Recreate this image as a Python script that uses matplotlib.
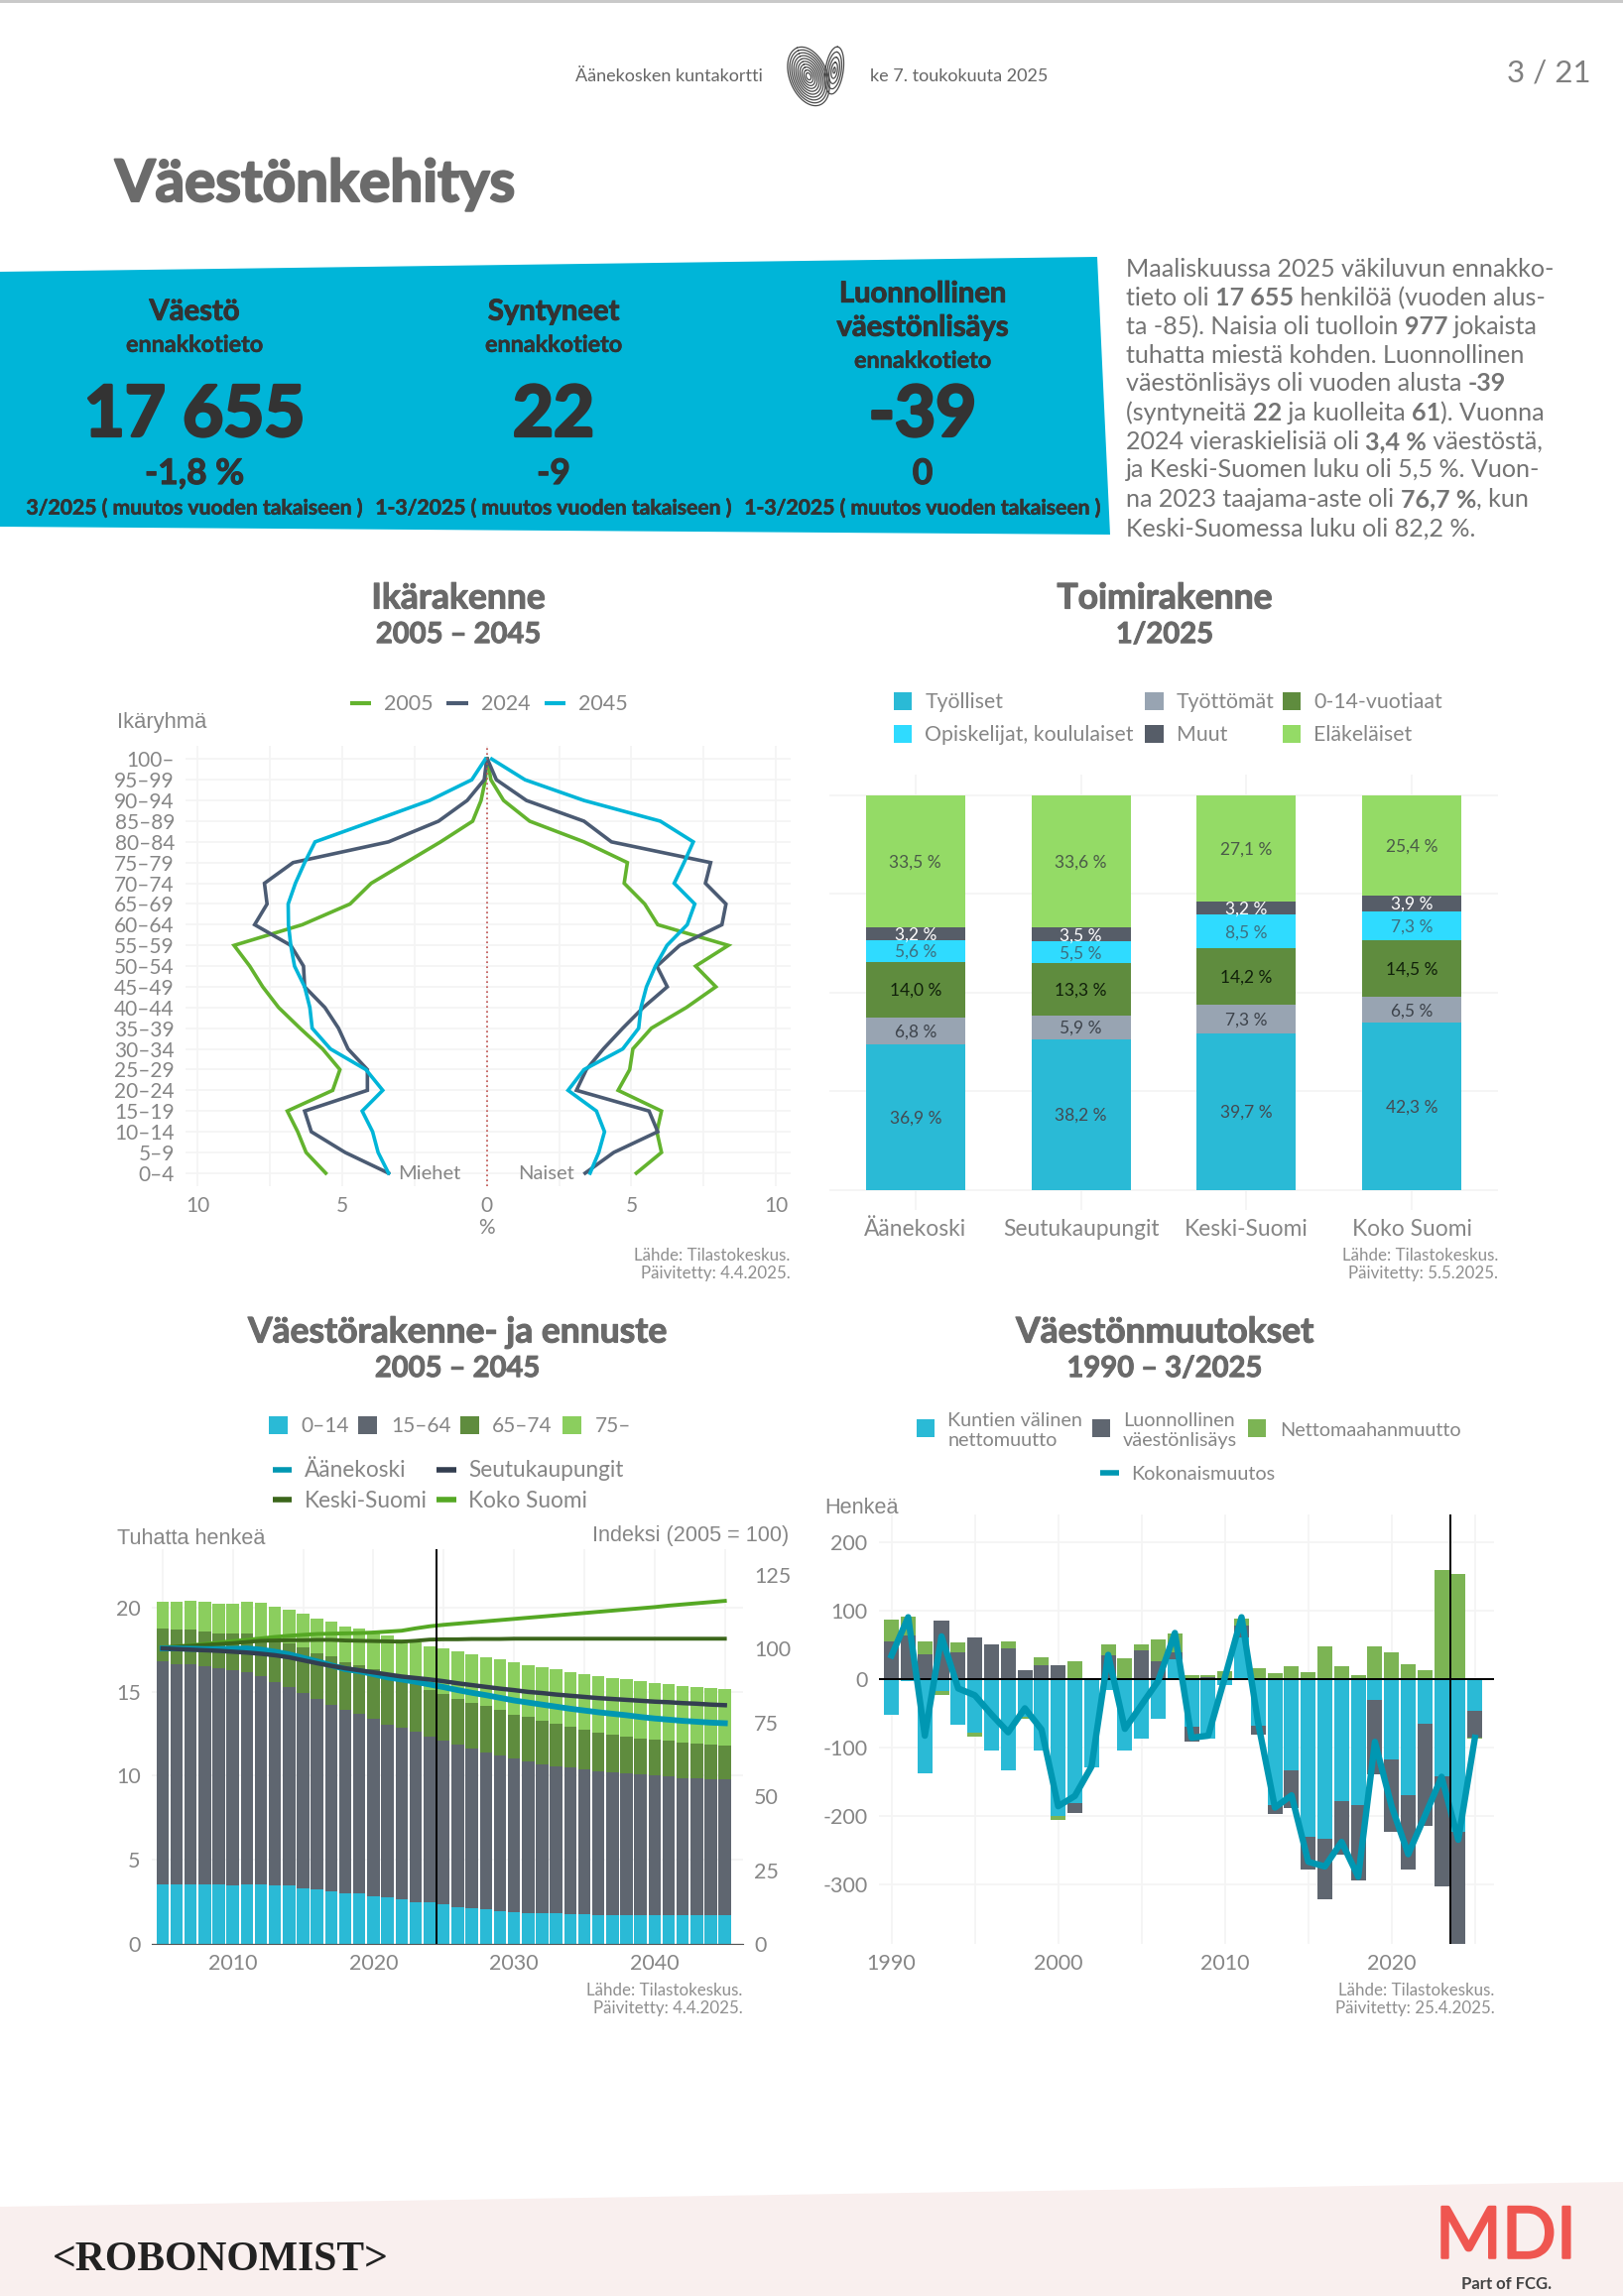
import numpy as np
import matplotlib
matplotlib.use("Agg")
import matplotlib.pyplot as plt
import matplotlib.patheffects as pe
from matplotlib.patches import Polygon, Rectangle

W, H = 1636, 2315
BODY = ['Lato', 'DejaVu Sans']
ARIAL = ['Liberation Sans', 'DejaVu Sans']
GREY = '#868686'
DARK = '#333333'
GRID = '#f4f4f4'

# ---------- Ikärakenne ----------
age_groups = ['0–4', '5–9', '10–14', '15–19', '20–24', '25–29', '30–34', '35–39', '40–44', '45–49', '50–54',
              '55–59', '60–64', '65–69', '70–74', '75–79', '80–84', '85–89', '90–94', '95–99', '100–']
men_2005 = [5.57, 6.25, 6.54, 6.9, 5.33, 5.08, 5.68, 6.46, 7.2, 7.75, 8.2, 8.74, 6.38, 4.73, 4.0, 2.8, 1.6, 0.49, 0.2, 0.05, 0.0]
men_2024 = [3.4, 4.9, 6.07, 6.3, 4.13, 4.13, 4.8, 5.13, 5.6, 6.3, 6.34, 6.78, 8.03, 7.6, 7.69, 6.7, 3.4, 1.67, 0.68, 0.09, 0.0]
men_2045 = [3.4, 3.76, 3.95, 4.31, 3.6, 4.18, 5.41, 6.04, 6.12, 6.3, 6.65, 6.78, 6.86, 6.87, 6.62, 6.3, 5.94, 3.95, 1.98, 0.52, 0.05]
women_2005 = [5.17, 6.04, 5.88, 6.04, 4.54, 4.94, 5.05, 5.69, 6.9, 7.92, 7.22, 8.35, 5.91, 5.46, 4.75, 4.86, 3.36, 1.48, 0.58, 0.14, 0.02]
women_2024 = [3.4, 4.39, 5.91, 5.61, 3.1, 3.44, 4.03, 4.7, 5.41, 6.24, 5.88, 6.67, 8.13, 8.27, 7.56, 7.74, 4.31, 3.36, 1.37, 0.33, 0.02]
women_2045 = [3.57, 3.87, 4.07, 3.79, 2.81, 3.36, 4.7, 5.25, 5.33, 5.52, 5.83, 6.23, 6.93, 7.19, 6.48, 6.82, 7.14, 6.0, 3.36, 1.32, 0.17]

# ---------- Toimirakenne ----------
areas = ['Äänekoski', 'Seutukaupungit', 'Keski-Suomi', 'Koko Suomi']
tyolliset = [36.9, 38.2, 39.7, 42.3]
tyottomat = [6.8, 5.9, 7.3, 6.5]
lapset = [14.0, 13.3, 14.2, 14.5]
opiskelijat = [5.6, 5.5, 8.5, 7.3]
muut = [3.2, 3.5, 3.2, 3.9]
elakelaiset = [33.5, 33.6, 27.1, 25.4]

# ---------- Väestörakenne- ja ennuste (cumulative tops, thousand persons) ----------
years3 = list(range(2005, 2046))
top_0_14 = [3.55, 3.55, 3.55, 3.52, 3.52, 3.5, 3.52, 3.52, 3.5, 3.45, 3.3, 3.25, 3.15, 3.0, 3.0, 2.85, 2.75, 2.65, 2.5, 2.45,
            2.35, 2.2, 2.15, 2.05, 1.97, 1.9, 1.85, 1.8, 1.8, 1.78, 1.77, 1.72, 1.72, 1.71, 1.71, 1.7, 1.7, 1.7, 1.7, 1.7, 1.7]
top_15_64 = [16.82, 16.65, 16.65, 16.53, 16.39, 16.27, 16.15, 15.9, 15.57, 15.3, 14.92, 14.56, 14.22, 13.89, 13.67, 13.38, 13.04, 12.83, 12.6, 12.32,
             12.1, 11.84, 11.6, 11.38, 11.2, 11.02, 10.85, 10.7, 10.56, 10.47, 10.35, 10.28, 10.23, 10.13, 10.08, 10.0, 9.96, 9.87, 9.84, 9.8, 9.77]
top_65_74 = [18.75, 18.68, 18.68, 18.58, 18.46, 18.44, 18.46, 18.2, 18.0, 17.85, 17.64, 17.3, 17.1, 16.73, 16.6, 16.34, 16.03, 15.74, 15.45, 15.1,
             14.85, 14.56, 14.32, 14.13, 13.89, 13.65, 13.48, 13.26, 13.12, 12.92, 12.73, 12.59, 12.47, 12.32, 12.23, 12.15, 12.08, 11.99, 11.91, 11.87, 11.82]
top_75 = [20.34, 20.34, 20.41, 20.34, 20.24, 20.24, 20.34, 20.26, 20.07, 19.9, 19.64, 19.37, 19.16, 18.87, 18.75, 18.58, 18.34, 18.1, 17.95, 17.71,
          17.6, 17.4, 17.23, 17.06, 16.9, 16.75, 16.56, 16.46, 16.32, 16.15, 16.03, 15.93, 15.81, 15.72, 15.62, 15.52, 15.45, 15.36, 15.28, 15.21, 15.14]
idx_aanekoski = [100, 100, 99.9, 99.8, 99.8, 99.9, 100.0, 99.6, 98.9, 98.0, 96.8, 95.6, 94.3, 93.0, 92.3, 91.3, 90.2, 89.5, 88.7, 87.8,
                 86.9, 85.9, 85.0, 84.2, 83.3, 82.4, 81.7, 81.0, 80.3, 79.6, 79.0, 78.4, 77.9, 77.4, 76.8, 76.3, 75.9, 75.5, 75.2, 74.9, 74.7]
idx_seutu = [100, 99.8, 99.6, 99.4, 99.2, 98.9, 98.6, 98.2, 97.7, 97.0, 96.0, 95.0, 94.1, 93.3, 92.6, 91.9, 91.2, 90.5, 90.0, 89.5,
             88.9, 88.2, 87.6, 87.0, 86.4, 85.9, 85.3, 84.9, 84.4, 84.0, 83.6, 83.2, 82.9, 82.6, 82.3, 82.0, 81.8, 81.5, 81.3, 81.0, 80.8]
idx_keski = [100.3, 100.6, 100.9, 101.2, 101.5, 101.8, 102.2, 102.6, 102.7, 102.8, 102.8, 102.9, 102.9, 102.7, 102.6, 102.5, 102.4, 102.3, 102.6, 103.0,
             103.1, 103.1, 103.2, 103.2, 103.2, 103.3, 103.3, 103.3, 103.3, 103.3, 103.3, 103.3, 103.3, 103.3, 103.3, 103.3, 103.3, 103.3, 103.3, 103.3, 103.3]
idx_koko = [100.3, 100.7, 101.1, 101.5, 102.0, 102.5, 102.9, 103.4, 103.9, 104.3, 104.6, 104.9, 105.0, 105.1, 105.2, 105.4, 105.7, 106.0, 106.8, 107.5,
            108.0, 108.4, 108.8, 109.2, 109.6, 110.0, 110.4, 110.8, 111.2, 111.6, 112.0, 112.4, 112.8, 113.2, 113.6, 114.0, 114.5, 114.9, 115.3, 115.7, 116.1]

# ---------- Väestönmuutokset ----------
years4 = list(range(1990, 2026))
kuntien = [-52, -3, -138, -18, -67, -78, -104, -134, -55, -105, -200, -181, -129, -16, -104, -87, -59, 29, -70, -87, -9, 61,
           -68, -184, -133, -230, -233, -178, -184, -31, -118, -170, -65, -142, -223, -47]
luonnollinen = [54, 64, 36, 85, 39, 60, 51, 45, 13, 20, 20, -15, 1, 34, 0, 41, 25, 10, -22, 2, 0, 17,
                -13, -14, -55, -48, -89, -78, -111, -108, -106, -108, -150, -161, -190, -39]
maahanmuutto = [32, 27, 19, -5, 14, -6, 0, 10, -3, 11, -6, 25, 0, 16, 30, 9, 32, 27, 6, 3, 11, 10,
                15, 8, 18, 10, 47, 18, 6, 47, 38, 22, 12, 159, 153, -1]
kokonais = [34, 90, -83, 62, -14, -24, -52, -78, -43, -74, -186, -171, -128, 35, -73, -38, -3, 67, -86, -83, 2, 90,
            -65, -188, -170, -267, -274, -238, -289, -92, -186, -256, -200, -143, -235, -86]

fig = plt.figure(figsize=(W / 100, H / 100), dpi=100, facecolor='white')
plt.rcParams['font.family'] = BODY


def axes_px(l, t, r, b, **kw):
    return fig.add_axes([l / W, 1 - b / H, (r - l) / W, (b - t) / H], **kw)


def style(ax, fs=15):
    for s in ax.spines.values():
        s.set_visible(False)
    ax.tick_params(length=0, labelsize=fs, labelcolor=GREY)
    for lab in ax.get_xticklabels() + ax.get_yticklabels():
        lab.set_fontweight('normal')
        lab.set_family(BODY)
    ax.set_facecolor('none')


pg = fig.add_axes([0, 0, 1, 1], zorder=-5)
pg.set_xlim(0, W)
pg.set_ylim(H, 0)
pg.axis('off')
top = fig.add_axes([0, 0, 1, 1], zorder=10)
top.set_xlim(0, W)
top.set_ylim(H, 0)
top.axis('off')
top.patch.set_alpha(0)


def T(x, y, s, fs=15, ha='left', va='center', color=GREY, weight='normal', family=BODY, stroke=0, **kw):
    t = top.text(x, y + fs * 0.08, s, fontsize=fs, ha=ha, va=va, color=color, fontweight=weight, family=family, **kw)
    if stroke:
        t.set_path_effects([pe.withStroke(linewidth=stroke, foreground=color)])
    return t


def swatch(x0, x1, y, c, h=18):
    top.add_patch(Rectangle((x0, y - h / 2), x1 - x0, h, fc=c, ec='none'))


def key(x0, x1, y, c, lw=3):
    top.plot([x0, x1], [y, y], color=c, lw=lw, solid_capstyle='butt')


def source(xr, y0, y1, a, b):
    T(xr, y0, a, fs=12.2, ha='right', color='#8f8f8f')
    T(xr, y1, b, fs=12.2, ha='right', color='#8f8f8f')


# ---------- header ----------
pg.add_patch(Rectangle((0, 0), W, 2.5, fc='#c9c9c9', ec='none'))
T(580, 76, 'Äänekosken kuntakortti', fs=13, color='#666666')
T(877, 76, 'ke 7. toukokuuta 2025', fs=13, color='#666666')
T(1604, 72, '3 / 21', fs=22.5, ha='right', color='#808080')
T(116, 183, 'Väestönkehitys', fs=42, color='#6b6b6b', weight='bold', stroke=1.6)

# fingerprint icon
for cx, cy, rx, ry, rot, n in [(815, 77, 19, 31, -22, 10), (841, 71, 9, 24, 8, 5)]:
    t = np.linspace(0, 2 * np.pi, 90)
    a = np.radians(rot)
    for s in np.linspace(0.12, 1, n):
        ex, ey = s * rx * np.sin(t), -s * ry * np.cos(t)
        top.plot(cx + ex * np.cos(a) - ey * np.sin(a), cy + ex * np.sin(a) + ey * np.cos(a), color='#4a4a4a', lw=0.9)

# ---------- blue band ----------
pg.add_patch(Polygon([(0, 274), (1106, 259), (1119, 539), (0, 531)], fc='#00B5D8', ec='none'))
cols = [(196, ['Väestö'], '17 655', '-1,8 %', '3/2025 ( muutos vuoden takaiseen )'),
        (558, ['Syntyneet'], '22', '-9', '1-3/2025 ( muutos vuoden takaiseen )'),
        (930, ['Luonnollinen', 'väestönlisäys'], '-39', '0', '1-3/2025 ( muutos vuoden takaiseen )')]
for x, heads, big, chg, foot in cols:
    if len(heads) == 1:
        T(x, 313, heads[0], fs=21, ha='center', color=DARK, weight='bold', stroke=0.7)
        T(x, 347, 'ennakkotieto', fs=16.8, ha='center', color=DARK, weight='bold', stroke=0.4)
    else:
        T(x, 295, heads[0], fs=21, ha='center', color=DARK, weight='bold', stroke=0.7)
        T(x, 329, heads[1], fs=21, ha='center', color=DARK, weight='bold', stroke=0.7)
        T(x, 363, 'ennakkotieto', fs=16.8, ha='center', color=DARK, weight='bold', stroke=0.4)
    T(x, 415, big, fs=51, ha='center', color=DARK, weight='bold', stroke=2.2)
    T(x, 476, chg, fs=25.5, ha='center', color=DARK, weight='bold', stroke=0.8)
    T(x, 511.5, foot, fs=15.2, ha='center', color=DARK, weight='bold', stroke=0.4)

para = [
    [('Maaliskuussa 2025 väkiluvun ennakko-', 0)],
    [('tieto oli ', 0), ('17 655', 1), (' henkilöä (vuoden alus-', 0)],
    [('ta -85). Naisia oli tuolloin ', 0), ('977', 1), (' jokaista', 0)],
    [('tuhatta miestä kohden. Luonnollinen', 0)],
    [('väestönlisäys oli vuoden alusta ', 0), ('-39', 1)],
    [('(syntyneitä ', 0), ('22', 1), (' ja kuolleita ', 0), ('61', 1), ('). Vuonna', 0)],
    [('2024 vieraskielisiä oli ', 0), ('3,4 %', 1), (' väestöstä,', 0)],
    [('ja Keski-Suomen luku oli 5,5 %. Vuon-', 0)],
    [('na 2023 taajama-aste oli ', 0), ('76,7 %', 1), (', kun', 0)],
    [('Keski-Suomessa luku oli 82,2 %.', 0)],
]
para_y = [270, 299.5, 328, 357, 385.5, 415, 444, 472.5, 502, 531.5]
rend = fig.canvas.get_renderer()
for runs, y in zip(para, para_y):
    x = 1135
    for s, b in runs:
        sp = s.replace(' ', '\u00a0')
        t = T(x, y, sp, fs=18.1, color='#747474', weight='bold' if b else 'normal')
        x += t.get_window_extent(rend).width

# ---------- section titles ----------
for x, y, a, b in [(462, 601.5, 'Ikärakenne', '2005 – 2045'), (1174, 601.5, 'Toimirakenne', '1/2025'),
                   (461, 1341.5, 'Väestörakenne- ja ennuste', '2005 – 2045'), (1174, 1341.5, 'Väestönmuutokset', '1990 – 3/2025')]:
    T(x, y, a, fs=25.5, ha='center', color='#6a6a6a', weight='bold', stroke=0.8)
    T(x, y + 37, b, fs=21, ha='center', color='#6a6a6a', weight='bold', stroke=0.7)

# ---------- Chart 1 ----------
ax1 = axes_px(187, 752.4, 796.5, 1196)
ypos = np.arange(len(age_groups))
C_2005, C_2024, C_2045 = '#63B32E', '#4B5B73', '#00B5D8'
for men, women, c in [(men_2005, women_2005, C_2005), (men_2024, women_2024, C_2024), (men_2045, women_2045, C_2045)]:
    ax1.plot(-np.array(men), ypos, color=c, lw=2.6, solid_joinstyle='miter')
    ax1.plot(women, ypos, color=c, lw=2.6, solid_joinstyle='miter')
ax1.axvline(0, color='#c0504d', lw=1.2, ls=(0, (1, 2)))
ax1.set_xlim(-10.42, 10.49)
ax1.set_ylim(-0.63, 20.62)
ax1.set_xticks([-10, -5, 0, 5, 10], ['10', '5', '0', '5', '10'])
ax1.set_xticks([-7.5, -2.5, 2.5, 7.5], minor=True)
ax1.set_yticks(ypos, age_groups)
ax1.grid(True, which='both', color=GRID, lw=1.3)
ax1.tick_params(which='minor', length=0)
ax1.set_axisbelow(True)
style(ax1, 15)
ax1.tick_params(axis='y', pad=8)
ax1.tick_params(axis='x', pad=7)
T(490.7, 1237, '%', fs=15, ha='center')
T(118, 727, 'Ikäryhmä', fs=15.8, family=ARIAL)
T(433, 1182, 'Miehet', fs=14.5, ha='center')
T(550, 1182, 'Naiset', fs=14.5, ha='center')
for x0, x1, xt, s, c in [(352.5, 374, 387, '2005', C_2005), (450, 472, 485, '2024', C_2024), (548.6, 570, 583.5, '2045', C_2045)]:
    key(x0, x1, 709, c)
    T(xt, 709, s, fs=15.5)
source(796.5, 1265, 1283, 'Lähde: Tilastokeskus.', 'Päivitetty: 4.4.2025.')

# ---------- Chart 2 ----------
ax2 = axes_px(836, 780.8, 1510, 1219.7)
xs = np.arange(len(areas))
stack2 = [(tyolliset, '#2ABAD6', '#444a52'), (tyottomat, '#98A4B2', '#3d434b'), (lapset, '#5F8C3E', '#10200a'),
          (opiskelijat, '#2FDBFF', '#3d6f80'), (muut, '#565D68', '#ffffff'), (elakelaiset, '#94DB66', '#4a5a48')]
bot = np.zeros(4)
for vals, c, tc in stack2:
    v = np.array(vals) / 100
    ax2.bar(xs, v, 0.6, bottom=bot, color=c, zorder=3)
    for xi, b, h, raw in zip(xs, bot, v, vals):
        ax2.text(xi, b + h / 2 - 0.003, f'{raw:.1f} %'.replace('.', ','), ha='center', va='center', color=tc,
                 fontsize=12.5, zorder=4, fontweight='normal')
    bot += v
ax2.set_xlim(-0.52, 3.52)
ax2.set_ylim(-0.05, 1.052)
ax2.set_xticks(xs, areas)
ax2.set_yticks([0, .25, .5, .75, 1], [''] * 5)
ax2.grid(True, color=GRID, lw=1.3)
ax2.set_axisbelow(True)
style(ax2, 16.4)
ax2.tick_params(axis='x', pad=7)
for x0, x1, xt, y, s, c in [(900.8, 919, 932.5, 707, 'Työlliset', '#2ABAD6'), (900.8, 919, 932.5, 740, 'Opiskelijat, koululaiset', '#2FDBFF'),
                            (1154, 1172.6, 1185.5, 707, 'Työttömät', '#98A4B2'), (1154, 1172.6, 1185.5, 740, 'Muut', '#565D68'),
                            (1293, 1311, 1324, 707, '0-14-vuotiaat', '#5F8C3E'), (1293, 1311, 1324, 740, 'Eläkeläiset', '#94DB66')]:
    swatch(x0, x1, y, c)
    T(xt, y, s, fs=15.3)
source(1510, 1265, 1283, 'Lähde: Tilastokeskus.', 'Päivitetty: 5.5.2025.')

# ---------- Chart 3 ----------
ax3 = axes_px(152.8, 1562, 748.8, 1960)
yr = np.array(years3)
prev = np.zeros(len(yr))
C3 = ['#2ABAD6', '#5F6670', '#5F8C3E', '#8BCE5E']
for tops, c in zip([top_0_14, top_15_64, top_65_74, top_75], C3):
    tops = np.array(tops)
    ax3.bar(yr, tops - prev, 0.88, bottom=prev, color=c, zorder=2)
    prev = tops
ax3.set_xlim(2004.22, 2046.28)
ax3.set_ylim(0, 23.47)
ax3.set_xticks([2010, 2020, 2030, 2040])
ax3.set_xticks([2005, 2015, 2025, 2035, 2045], minor=True)
ax3.set_yticks([0, 5, 10, 15, 20])
ax3.grid(True, which='both', color=GRID, lw=1.3)
ax3.tick_params(which='minor', length=0)
ax3.set_axisbelow(True)
style(ax3, 15.5)
ax3.spines['bottom'].set_visible(True)
ax3.spines['bottom'].set_color('#555555')
ax3.tick_params(axis='y', pad=8)
ax3.tick_params(axis='x', pad=7)
ax3b = ax3.twinx()
ax3b.plot(yr, idx_koko, color='#55A824', lw=2.8, zorder=3)
ax3b.plot(yr, idx_keski, color='#3B661B', lw=2.8, zorder=4)
ax3b.plot(yr, idx_aanekoski, color='#0097B2', lw=4.2, zorder=5)
ax3b.plot(yr, idx_seutu, color='#333E50', lw=3.2, zorder=6)
ax3b.axvline(2024.5, color='black', lw=1.4, zorder=7)
ax3b.set_ylim(0, 133.6)
ax3b.set_yticks([0, 25, 50, 75, 100, 125])
style(ax3b, 15.5)
ax3b.tick_params(axis='y', pad=8)
for x0, x1, xt, s, c in [(270.8, 289.6, 303, '0–14', C3[0]), (361, 380, 394, '15–64', C3[1]), (464, 483, 496, '65–74', C3[2]), (567, 586, 599.5, '75–', C3[3])]:
    swatch(x0, x1, 1436.7, c)
    T(xt, 1437, s, fs=15)
for x0, x1, xt, y, s, c in [(274.5, 293.8, 306.6, 1481.6, 'Äänekoski', '#0097B2'), (440, 459.5, 472, 1481.6, 'Seutukaupungit', '#333E50'),
                            (274.5, 293.8, 306.6, 1512, 'Keski-Suomi', '#3B661B'), (440, 459.5, 472, 1512, 'Koko Suomi', '#55A824')]:
    key(x0, x1, y, c, 4)
    T(xt, y, s, fs=16.3)
T(118, 1550, 'Tuhatta henkeä', fs=15.6, family=ARIAL)
T(795.6, 1547, 'Indeksi (2005 = 100)', fs=15.6, ha='right', family=ARIAL)
source(748.8, 2006, 2024, 'Lähde: Tilastokeskus.', 'Päivitetty: 4.4.2025.')

# ---------- Chart 4 ----------
ax4 = axes_px(885.7, 1526.5, 1506.4, 1960)
yr4 = np.array(years4)
pos = np.zeros(len(yr4))
neg = np.zeros(len(yr4))
C4 = ['#2ABAD6', '#5F6670', '#7CB454']
for vals, c in zip([kuntien, luonnollinen, maahanmuutto], C4):
    v = np.array(vals, dtype=float)
    b = np.where(v >= 0, pos, neg)
    ax4.bar(yr4, v, 0.9, bottom=b, color=c, zorder=2)
    pos += np.where(v >= 0, v, 0)
    neg += np.where(v < 0, v, 0)
ax4.plot(yr4, kokonais, color='#0097B2', lw=4.6, zorder=4, solid_joinstyle='round')
ax4.axhline(0, color='black', lw=1.4, zorder=3)
ax4.axvline(2023.5, color='black', lw=1.4, zorder=5)
ax4.set_xlim(1989.23, 2026.17)
ax4.set_ylim(-387, 240.7)
ax4.set_xticks([1990, 2000, 2010, 2020])
ax4.set_xticks([1995, 2005, 2015, 2025], minor=True)
ax4.set_yticks([-300, -200, -100, 0, 100, 200], ['-300', '-200', '-100', '0', '100', '200'])
ax4.grid(True, which='both', color=GRID, lw=1.3)
ax4.tick_params(which='minor', length=0)
ax4.set_axisbelow(True)
style(ax4, 15.5)
ax4.tick_params(axis='y', pad=8)
ax4.tick_params(axis='x', pad=7)
swatch(923.8, 942, 1440, C4[0])
T(955.4, 1431, 'Kuntien välinen', fs=14.3)
T(955.4, 1451.4, 'nettomuutto', fs=14.3)
swatch(1101, 1119.4, 1440, C4[1])
T(1132, 1431, 'Luonnollinen', fs=14.3)
T(1132, 1451.4, 'väestönlisäys', fs=14.3)
swatch(1258, 1276.4, 1440, C4[2])
T(1289.7, 1441, 'Nettomaahanmuutto', fs=14.3)
key(1109, 1127.6, 1485, '#0097B2', 4)
T(1140.5, 1485, 'Kokonaismuutos', fs=14.3)
T(831.5, 1519.6, 'Henkeä', fs=15.6, family=ARIAL)
source(1506.4, 2006, 2024, 'Lähde: Tilastokeskus.', 'Päivitetty: 25.4.2025.')

# ---------- footer ----------
pg.add_patch(Polygon([(0, 2225), (W, 2200), (W, H), (0, H)], fc='#F9EFEE', ec='none'))
T(222, 2277, '<ROBONOMIST>', fs=30, ha='center', color='#222222', weight='bold', family=['Liberation Serif', 'DejaVu Serif'])
T(1518, 2252, 'MDI', fs=52, ha='center', color='#EF5650', weight='normal', stroke=1.6)
T(1519, 2302, 'Part of FCG.', fs=12, ha='center', color='#444444', weight='bold')

fig.savefig('out.png', dpi=100, facecolor='white')
